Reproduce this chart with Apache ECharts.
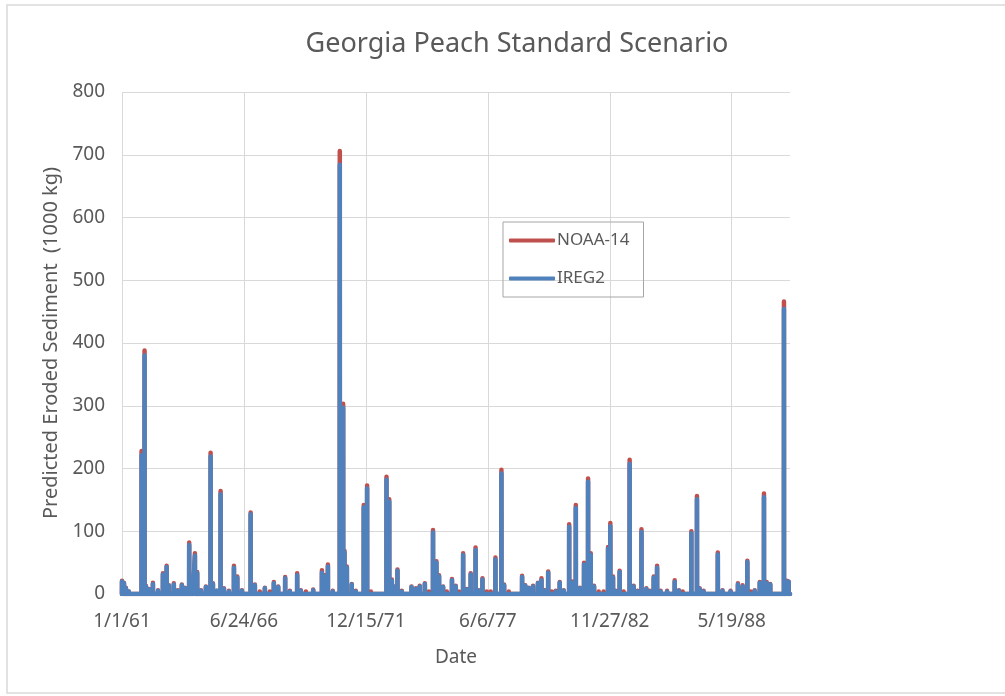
<!DOCTYPE html>
<html>
<head>
<meta charset="utf-8">
<script src="https://cdn.jsdelivr.net/npm/echarts@6/dist/echarts.min.js"></script>
<style>
html,body{margin:0;padding:0;background:#fff;}
#chart{width:1005px;height:696px;}
</style>
</head>
<body>
<div id="chart"></div>
<script>
// ---- data ----
const title = 'Georgia Peach Standard Scenario';
const seriesNames = ['NOAA-14', 'IREG2'];
const yTicks = [0, 100, 200, 300, 400, 500, 600, 700, 800];
const xTickLabels = ['1/1/61', '6/24/66', '12/15/71', '6/6/77', '11/27/82', '5/19/88'];
const eventDates = [
 '1961-01-01','1961-02-02','1961-03-06','1961-04-23','1961-06-13','1961-11-18','1962-01-06','1962-01-29','1962-03-18','1962-05-23',
 '1962-08-15','1962-11-03','1963-01-03','1963-02-10','1963-05-01','1963-07-05','1963-09-09','1963-10-30','1964-01-08','1964-03-10',
 '1964-04-11','1964-05-18','1964-07-19','1964-10-08','1964-12-24','1965-01-31','1965-04-05','1965-06-06','1965-07-31','1965-10-20',
 '1966-01-11','1966-03-07','1966-05-22','1966-10-12','1966-12-20','1967-03-11','1967-06-02','1967-08-22','1967-10-27','1968-01-07',
 '1968-04-30','1968-07-16','1968-11-13','1969-01-12','1969-04-05','1969-08-03','1969-12-24','1970-02-06','1970-04-01','1970-06-20',
 '1970-10-13','1970-12-07','1970-12-29','1971-02-06','1971-04-27','1971-07-02','1971-09-06','1971-11-10','1972-01-04','1972-03-06',
 '1972-05-26','1972-08-15','1972-11-17','1973-01-01','1973-02-13','1973-03-25','1973-05-16','1973-07-26','1973-11-01','1974-01-01',
 '1974-03-14','1974-05-16','1974-08-08','1974-10-12','1974-12-20','1975-02-14','1975-03-29','1975-06-03','1975-08-04','1975-10-27',
 '1975-12-28','1976-02-17','1976-04-27','1976-06-25','1976-08-29','1976-11-17','1977-01-08','1977-03-10','1977-05-19','1977-07-24',
 '1977-10-09','1978-01-15','1978-02-28','1978-05-16','1978-07-01','1978-09-24','1978-12-20','1979-02-10','1979-04-09','1979-06-18',
 '1979-09-06','1979-11-03','1979-12-28','1980-02-21','1980-04-19','1980-06-24','1980-08-28','1980-11-02','1981-01-30','1981-03-18',
 '1981-05-19','1981-07-24','1981-10-01','1981-12-06','1982-01-19','1982-03-14','1982-05-30','1982-08-18','1982-10-30','1982-12-06',
 '1983-01-19','1983-03-04','1983-05-08','1983-07-13','1983-10-19','1983-12-24','1984-02-27','1984-04-30','1984-07-19','1984-09-12',
 '1984-11-17','1985-01-11','1985-03-10','1985-06-24','1985-08-22','1985-10-27','1986-01-04','1986-03-07','1986-05-11','1986-07-27',
 '1986-10-27','1986-12-10','1987-02-13','1987-05-04','1987-07-09','1987-10-04','1987-12-20','1988-02-24','1988-04-30','1988-06-20',
 '1988-08-29','1988-11-14','1989-01-30','1989-03-26','1989-05-31','1989-08-22','1989-10-30','1989-12-13','1990-02-10','1990-04-05',
 '1990-06-28','1990-09-23','1990-11-06','1990-12-09'
];
const noaa14 = [
 21,18,10,4,2,228,388,13,8,18,
 6,33,45,14,17,6,15,10,82,10,
 65,35,6,12,225,17,5,164,9,5,
 45,28,6,130,15,4,10,4,19,12,
 27,5,33,6,4,7,38,30,47,5,
 706,303,69,44,16,5,3,142,173,4,
 3,3,187,151,23,12,39,5,3,12,
 9,13,17,4,102,52,30,12,4,24,
 13,4,65,8,33,74,6,25,4,4,
 58,198,15,4,3,3,29,14,10,13,
 18,25,6,36,4,5,19,6,111,20,
 142,10,50,184,65,13,4,4,75,113,
 28,5,37,4,214,13,5,103,9,5,
 28,45,5,5,3,22,6,4,3,100,
 156,9,5,3,3,66,6,3,5,3,
 17,14,53,4,6,19,160,19,16,3,
 2,466,21,20
];
const ireg2 = [
 20,17,9,4,2,221,380,12,7,16,
 5,31,43,13,15,5,14,9,78,9,
 61,33,5,11,219,16,5,159,8,4,
 42,26,5,127,14,3,9,3,17,11,
 25,4,30,5,3,6,34,28,44,4,
 684,297,66,42,15,4,2,138,168,3,
 2,2,182,147,21,11,37,4,2,11,
 8,12,16,3,98,50,28,11,3,22,
 12,3,62,7,31,70,5,23,3,3,
 55,192,14,3,2,2,27,13,9,12,
 17,22,5,34,3,4,18,5,107,18,
 137,9,47,179,62,12,3,3,72,108,
 26,4,35,3,207,12,4,99,8,4,
 26,42,4,4,2,19,5,3,2,97,
 151,8,4,2,2,63,5,2,4,2,
 15,12,51,3,5,18,154,17,15,2,
 2,454,20,19
];
const startDate = '1961-01-01';
const endDate = '1990-12-31';

// ---- helpers ----
const DAY = 86400000;
function toDay(s) {
  const p = s.split('-').map(Number);
  return Math.round((Date.UTC(p[0], p[1] - 1, p[2]) - Date.UTC(1961, 0, 1)) / DAY);
}
function fmtDay(d) {
  const dt = new Date(Date.UTC(1961, 0, 1) + d * DAY);
  return (dt.getUTCMonth() + 1) + '/' + dt.getUTCDate() + '/' + String(dt.getUTCFullYear()).slice(2);
}
function buildSeries(vals) {
  const out = [];
  eventDates.forEach((s, i) => {
    const d = toDay(s);
    out.push([d - 1, 0], [d, vals[i]], [d + 1, 0]);
  });
  out.push([toDay(endDate), 0]);
  return out;
}

const chart = echarts.init(document.getElementById('chart'), null, {renderer: 'canvas'});
const textColor = '#595959';
const font = 'Noto Sans';

chart.setOption({
  animation: false,
  backgroundColor: '#ffffff',
  title: {
    text: title,
    left: 512, top: 26, textAlign: 'center',
    textStyle: {fontFamily: font, fontSize: 27, fontWeight: 'normal', color: textColor}
  },
  graphic: [{
    type: 'rect', silent: true, z: -10,
    shape: {x: 7, y: 5, width: 1010, height: 688},
    style: {fill: null, stroke: '#d9d9d9', lineWidth: 1.5}
  }],
  legend: {
    data: seriesNames,
    orient: 'vertical',
    left: 503, top: 222,
    padding: [10, 14, 10, 6],
    itemGap: 21,
    itemWidth: 46, itemHeight: 4,
    icon: 'roundRect',
    borderColor: '#a6a6a6', borderWidth: 1,
    textStyle: {fontFamily: font, fontSize: 17, color: textColor, padding: [0, 0, 0, -3]}
  },
  grid: {left: 122, top: 92, right: 215, bottom: 102, containLabel: false},
  xAxis: {
    type: 'value',
    min: toDay(startDate), max: toDay(endDate),
    interval: 2000,
    name: 'Date', nameLocation: 'middle', nameGap: 54,
    nameTextStyle: {fontFamily: font, fontSize: 19, color: textColor},
    axisLine: {show: true, lineStyle: {color: '#d9d9d9'}},
    axisTick: {show: false},
    axisLabel: {
      fontFamily: font, fontSize: 19, color: textColor, margin: 18,
      showMaxLabel: false,
      formatter: v => fmtDay(v)
    },
    splitLine: {show: true, showMaxLine: false, lineStyle: {color: '#d9d9d9', width: 1}}
  },
  yAxis: {
    type: 'value', min: 0, max: 800, interval: 100,
    name: 'Predicted Eroded Sediment  (1000 kg)', nameLocation: 'middle', nameGap: 60,
    nameTextStyle: {fontFamily: font, fontSize: 20, color: textColor},
    axisLine: {show: false}, axisTick: {show: false},
    axisLabel: {fontFamily: font, fontSize: 19, color: textColor, margin: 17},
    splitLine: {lineStyle: {color: '#d9d9d9', width: 1}}
  },
  series: [
    {
      name: seriesNames[0], type: 'line', data: buildSeries(noaa14),
      showSymbol: false, symbol: 'none', clip: true, z: 2,
      lineStyle: {color: '#C0504D', width: 4.5, join: 'round', cap: 'round'},
      itemStyle: {color: '#C0504D'}
    },
    {
      name: seriesNames[1], type: 'line', data: buildSeries(ireg2),
      showSymbol: false, symbol: 'none', clip: true, z: 3,
      lineStyle: {color: '#4F81BD', width: 4.5, join: 'round', cap: 'round'},
      itemStyle: {color: '#4F81BD'}
    }
  ]
});
</script>
</body>
</html>
